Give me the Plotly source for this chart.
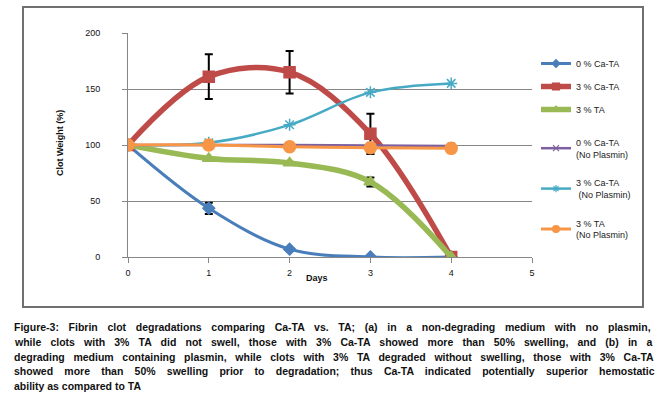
import plotly.graph_objects as go

days = [0, 1, 2, 3, 4]

series_names = ["0 % Ca-TA", "3 % Ca-TA", "3 % TA",
                "0 % Ca-TA<br>(No Plasmin)", "3 % Ca-TA<br> (No Plasmin)", "3 % TA<br>(No Plasmin)"]
ca0 = [100, 43.5, 7, 0, 0]
ca3 = [100, 161, 165, 110, 0]
ta3 = [100, 88, 84, 67, 0]
ca0_np = [100, 100, 100, 99.5, 99]
ca3_np = [100, 102, 118, 147, 155]
ta3_np = [100, 100, 98.5, 97.5, 97]

ca0_err = [None, 5, None, None, None]
ca3_err = [None, 20, 19, 18, None]
ta3_err = [None, None, None, 4, None]

y_ticks = [0, 50, 100, 150, 200]
x_ticks = [0, 1, 2, 3, 4, 5]

caption_lines = [
    "Figure-3: Fibrin clot degradations comparing Ca-TA vs. TA; (a) in a non-degrading medium with no plasmin,",
    "while clots with 3% TA did not swell, those with 3% Ca-TA showed more than 50% swelling, and (b) in a",
    "degrading medium containing plasmin, while clots with 3% TA degraded without swelling, those with 3% Ca-TA",
    "showed more than 50% swelling prior to degradation; thus Ca-TA indicated potentially superior hemostatic",
    "ability as compared to TA",
]
caption_spacing = [6.75, 6.25, 5.75, 8.3, 0]

W, H = 670, 394
L, R, T, B = 128, 532, 33, 257

def px(xp):
    return (xp - L) / (R - L)

def py(yp):
    return (B - yp) / (B - T)

colors = ["#4A7EBB", "#BE4B48", "#98B954", "#7D60A0", "#46AAC5", "#F79646"]
widths = [3, 5.5, 5.5, 2.5, 2.5, 3]
symbols = ["diamond", "square", "triangle-up", "x-thin-open", "asterisk-open", "circle"]
msizes = [9, 11, 11, 7, 10, 12]
leg_msizes = [6, 7, 7, 6, 6, 7]
values = [ca0, ca3, ta3, ca0_np, ca3_np, ta3_np]
errors = [ca0_err, ca3_err, ta3_err, None, None, None]
legend_ids = ["legend", "legend", "legend", "legend2", "legend2", "legend2"]

fig = go.Figure()
for i in range(6):
    tr = dict(
        x=days, y=values[i], name=series_names[i], mode="lines+markers",
        line=dict(color=colors[i], width=widths[i], shape="spline", smoothing=1.0),
        marker=dict(symbol=symbols[i], size=msizes[i], color=colors[i],
                    line=dict(color=colors[i], width=1.5)),
        legendgroup=str(i), showlegend=False,
    )
    if errors[i] is not None:
        tr["error_y"] = dict(type="data", array=errors[i], visible=True,
                             color="black", thickness=2, width=4)
    fig.add_trace(go.Scatter(**tr))

# legend entries (smaller markers, as in the original legend)
for i in range(6):
    fig.add_trace(go.Scatter(
        x=[None], y=[None], name=series_names[i], mode="lines+markers",
        line=dict(color=colors[i], width=widths[i]),
        marker=dict(symbol=symbols[i], size=leg_msizes[i], color=colors[i],
                    line=dict(color=colors[i], width=1.2)),
        legendgroup=str(i), legend=legend_ids[i], showlegend=True,
    ))

fig.update_layout(
    width=W, height=H,
    margin=dict(l=L, r=W - R, t=T, b=H - B),
    paper_bgcolor="white", plot_bgcolor="white",
    font=dict(family="Liberation Sans, Arial, sans-serif", size=9, color="#222"),
    showlegend=True,
    legend=dict(x=px(536), y=py(49), xanchor="left", yanchor="top",
                font=dict(size=9, color="#222"), tracegroupgap=4,
                bgcolor="rgba(0,0,0,0)"),
    legend2=dict(x=px(536), y=py(130), xanchor="left", yanchor="top",
                 font=dict(size=9, color="#222"), tracegroupgap=14,
                 bgcolor="rgba(0,0,0,0)"),
)
fig.update_xaxes(range=[0, 5], tickvals=x_ticks, ticks="outside", ticklen=5,
                 tickcolor="#868686", showline=True, linecolor="#868686", linewidth=1,
                 showgrid=False, zeroline=False, tickfont=dict(size=9, color="#111"),
                 ticklabelstandoff=2)
fig.update_yaxes(range=[0, 200], tickvals=y_ticks, ticks="outside", ticklen=5,
                 tickcolor="#868686", showline=True, linecolor="#868686", linewidth=1,
                 showgrid=True, gridcolor="#868686", gridwidth=1, zeroline=False,
                 tickfont=dict(size=9, color="#111"), ticklabelstandoff=20)

# chart frame
fig.add_shape(type="rect", xref="paper", yref="paper",
              x0=px(23), x1=px(643), y0=py(307), y1=py(7),
              line=dict(color="#707070", width=2), layer="below")

fig.add_annotation(text="<b>Days</b>", xref="paper", yref="paper", x=px(317), y=py(278),
                   xanchor="center", yanchor="middle",
                   showarrow=False, font=dict(size=9, color="#111"))
fig.add_annotation(text="<b>Clot Weight (%)</b>", xref="paper", yref="paper", x=px(60), y=py(143),
                   xanchor="center", yanchor="middle",
                   showarrow=False, textangle=-90, font=dict(size=9, color="#111"))

for k, line in enumerate(caption_lines):
    txt = f'<span style="word-spacing:{caption_spacing[k]}px">{line}</span>' if caption_spacing[k] else line
    fig.add_annotation(text=f"<b>{txt}</b>", xref="paper", yref="paper",
                       x=px(12), y=py(327 + k * 14.75), xanchor="left", yanchor="middle",
                       showarrow=False, font=dict(size=10.5, color="#111",
                                                  family="Liberation Sans, Arial, sans-serif"))

fig.write_html("out.html", config={"displayModeBar": False},
               post_script="document.body.style.margin='0';")
